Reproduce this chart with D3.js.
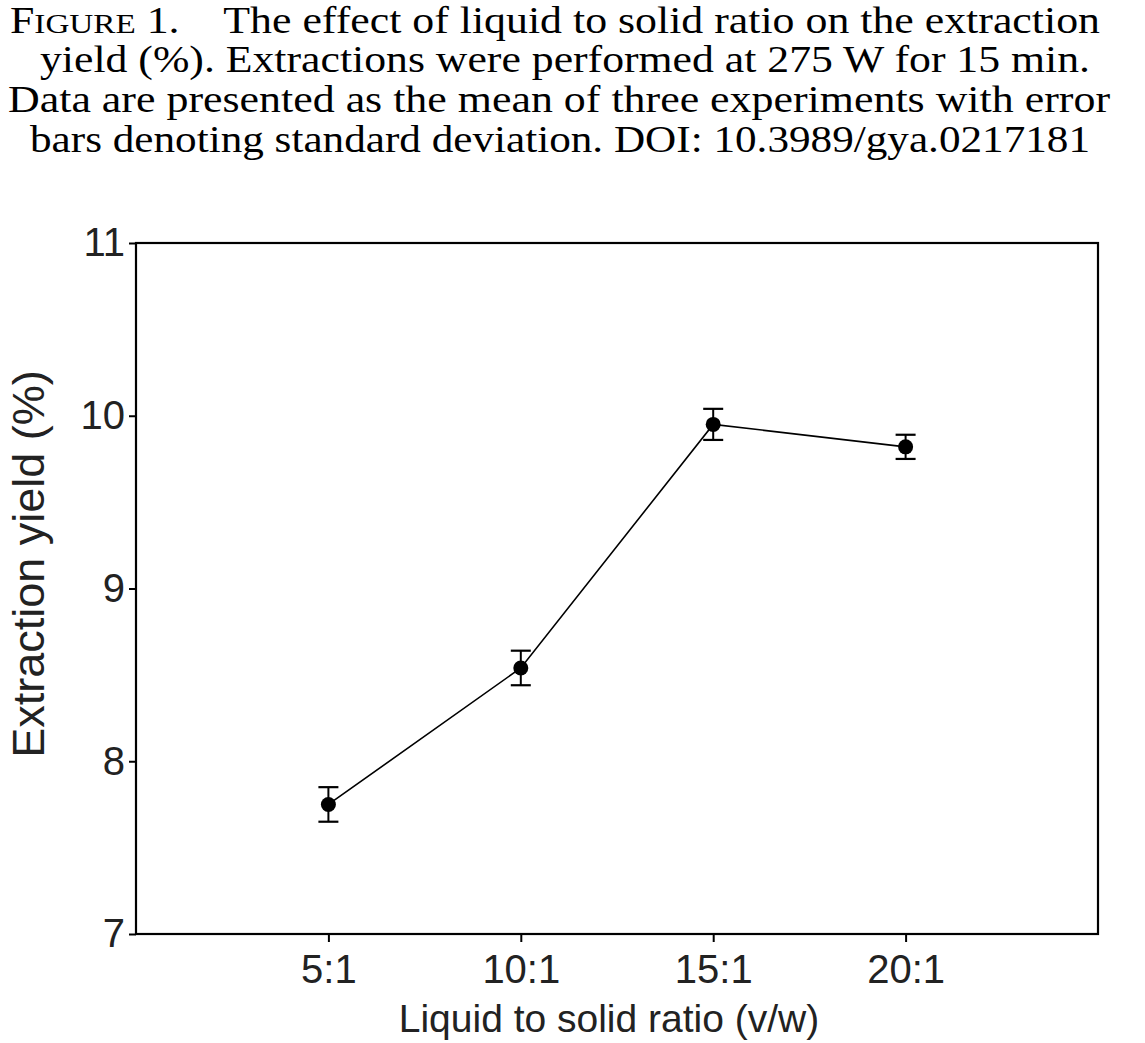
<!DOCTYPE html>
<html>
<head>
<meta charset="utf-8">
<script src="https://cdn.jsdelivr.net/npm/d3@7"></script>
<style>
  html, body { margin: 0; padding: 0; background: #fff; }
  svg { display: block; }
</style>
</head>
<body>
<svg id="chart" width="1145" height="1043"></svg>
<script>
// ---- data ----
const categories = ["5:1", "10:1", "15:1", "20:1"];
const yieldMean = [7.75, 8.54, 9.95, 9.82];
const yieldSD = [0.10, 0.10, 0.09, 0.07];
const yTicks = [7, 8, 9, 10, 11];
const titleLines = [
  "The effect of liquid to solid ratio on the extraction",
  "yield (%). Extractions were performed at 275 W for 15 min.",
  "Data are presented as the mean of three experiments with error",
  "bars denoting standard deviation. DOI: 10.3989/gya.0217181"
];
const xLabel = "Liquid to solid ratio (v/w)";
const yLabel = "Extraction yield (%)";

(function () {
const svg = d3.select("#chart");
const W = 1145, H = 1043;
svg.append("rect").attr("width", W).attr("height", H).attr("fill", "#fff");

// ---- title ----
const tFont = "'Times New Roman', 'Liberation Serif', Tinos, 'Nimbus Roman', serif";
const titleSpecs = [
  {x0: 10, x1: 1100, y: 33},
  {x0: 40, x1: 1090, y: 72},
  {x0: 8,  x1: 1110, y: 112},
  {x0: 30, x1: 1090, y: 152}
];
titleLines.forEach((line, i) => {
  const s = titleSpecs[i];
  const t = svg.append("text")
    .attr("x", s.x0).attr("y", s.y)
    .attr("font-family", tFont).attr("font-size", 37)
    .attr("fill", "#000")
    .attr("textLength", s.x1 - s.x0)
    .attr("lengthAdjust", "spacingAndGlyphs");
  if (i === 0) {
    t.append("tspan").text("F");
    t.append("tspan").attr("font-size", 28).text("IGURE");
    t.append("tspan").text("\u00A01.\u00A0\u00A0\u00A0\u00A0" + line);
  } else {
    t.text(line);
  }
});

// ---- scales ----
const pLeft = 136, pRight = 1098, pTop = 243, pBottom = 934;
const x = d3.scalePoint().domain(categories).range([pLeft, pRight]).padding(1);
const y = d3.scaleLinear().domain([7, 11]).range([pBottom, pTop]);

const aFont = "'Liberation Sans', Arial, Helvetica, sans-serif";

// ---- axes ----
const xAxis = svg.append("g")
  .attr("transform", `translate(0,${pBottom})`)
  .call(d3.axisBottom(x).tickSize(8).tickPadding(13).tickSizeOuter(0));
const yAxis = svg.append("g")
  .attr("transform", `translate(${pLeft},0)`)
  .call(d3.axisLeft(y).tickValues(yTicks).tickFormat(d3.format("d")).tickSize(7).tickPadding(4).tickSizeOuter(0));
[xAxis, yAxis].forEach(g => {
  g.select(".domain").remove();
  g.selectAll(".tick line").attr("stroke", "#000").attr("stroke-width", 2);
  g.selectAll(".tick text").attr("font-family", aFont).attr("font-size", 40).attr("fill", "#222");
});

// frame
svg.append("rect")
  .attr("x", pLeft).attr("y", pTop)
  .attr("width", pRight - pLeft).attr("height", pBottom - pTop)
  .attr("fill", "none").attr("stroke", "#000").attr("stroke-width", 2.2);

// ---- axis labels ----
svg.append("text")
  .attr("x", 609).attr("y", 1032)
  .attr("text-anchor", "middle")
  .attr("font-family", aFont).attr("font-size", 39).attr("fill", "#222")
  .text(xLabel);
svg.append("text")
  .attr("transform", `translate(44,${564}) rotate(-90)`)
  .attr("text-anchor", "middle")
  .attr("font-family", aFont).attr("font-size", 45).attr("fill", "#222")
  .text(yLabel);

// ---- marks ----
const pts = categories.map((c, i) => ({c, m: yieldMean[i], s: yieldSD[i]}));
const line = d3.line().x(d => x(d.c)).y(d => y(d.m));
svg.append("path").datum(pts)
  .attr("d", line).attr("fill", "none")
  .attr("stroke", "#000").attr("stroke-width", 1.6);

const eb = svg.append("g").selectAll("g").data(pts).join("g");
eb.append("line")
  .attr("x1", d => x(d.c)).attr("x2", d => x(d.c))
  .attr("y1", d => y(d.m + d.s)).attr("y2", d => y(d.m - d.s))
  .attr("stroke", "#000").attr("stroke-width", 2);
[1, -1].forEach(sg => {
  eb.append("line")
    .attr("x1", d => x(d.c) - 10).attr("x2", d => x(d.c) + 10)
    .attr("y1", d => y(d.m + sg * d.s)).attr("y2", d => y(d.m + sg * d.s))
    .attr("stroke", "#000").attr("stroke-width", 2.2);
});
eb.append("circle")
  .attr("cx", d => x(d.c)).attr("cy", d => y(d.m))
  .attr("r", 7.5).attr("fill", "#000");
})();
</script>
</body>
</html>
